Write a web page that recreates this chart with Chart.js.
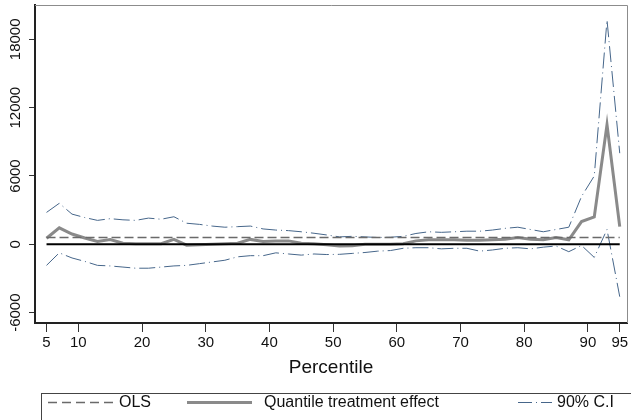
<!DOCTYPE html>
<html><head><meta charset="utf-8">
<script src="https://cdn.jsdelivr.net/npm/chart.js@4"></script>
<style>html,body{margin:0;padding:0;background:#fff;overflow:hidden;}</style>
</head><body>
<canvas id="c" width="631" height="420"></canvas>
<script>
const percentiles = [5,7,9,11,13,15,17,19,21,23,25,27,29,31,33,35,37,39,41,43,45,47,49,51,53,55,57,59,61,63,65,67,69,71,73,75,77,79,81,83,85,87,89,91,93,95];
const qte = [530,1450,900,550,250,420,100,50,50,50,430,-80,-50,0,50,100,430,250,300,300,100,50,
             -50,-150,-120,0,0,0,50,300,400,400,400,350,350,400,450,600,450,400,600,400,2000,2400,10500,1550];
const ciUpper = [2800,3600,2650,2350,2100,2250,2150,2100,2300,2200,2420,1850,1750,1600,1500,1550,1600,1350,1250,1200,1100,970,
                 820,650,700,650,600,620,700,950,1100,1050,1100,1150,1150,1250,1400,1500,1300,1100,1300,1500,4200,6000,19700,8000];
const ciLower = [-1850,-750,-1200,-1500,-1850,-1900,-2000,-2100,-2100,-2000,-1900,-1850,-1700,-1550,-1400,-1100,-1000,-1000,-750,-850,-950,-850,
                 -900,-880,-800,-720,-600,-550,-350,-300,-300,-400,-350,-350,-600,-500,-350,-300,-400,-250,-150,-650,-100,-1150,1300,-4600];
const olsValue = 600;
const zeroValue = 0;
const xTicks = [5,10,20,30,40,50,60,70,80,90,95];
const yTicks = [-6000,0,6000,12000,18000];
const legendLabels = ['OLS','Quantile treatment effect','90% C.I'];
const xTitle = 'Percentile';

const FONT = 'Arial, "Liberation Sans", sans-serif';
const CI_COLOR = '#46668a';
const QTE_COLOR = '#8a8a8a';
const OLS_COLOR = '#6a6a6a';

const pts = arr => percentiles.map((p,i)=>({x:p,y:arr[i]}));
const constPts = v => percentiles.map(p=>({x:p,y:v}));

const framePlugin = {
  id:'frame',
  afterDraw(chart){
    const ctx = chart.ctx, a = chart.chartArea;
    const ys = chart.scales.y;
    ctx.save();
    ctx.strokeStyle = '#8c8c8c'; ctx.lineWidth = 1;
    ctx.beginPath();
    ctx.moveTo(a.left, a.top+0.5); ctx.lineTo(a.right+0.5, a.top+0.5); ctx.lineTo(a.right+0.5, a.bottom);
    ctx.stroke();
    ctx.fillStyle = '#111';
    ctx.font = '15px ' + FONT;
    ctx.textAlign = 'center'; ctx.textBaseline = 'middle';
    ys.ticks.forEach(t=>{
      const y = ys.getPixelForValue(t.value);
      ctx.save(); ctx.translate(16, y); ctx.rotate(-Math.PI/2);
      ctx.fillText(String(t.value), 0, 0);
      ctx.restore();
    });
    ctx.strokeStyle = '#444'; ctx.lineWidth = 1;
    ctx.strokeRect(41.5, 393.5, 640, 60);
    const ly = 402.5;
    ctx.font = '16px ' + FONT; ctx.textAlign = 'left'; ctx.fillStyle='#111';
    ctx.strokeStyle = OLS_COLOR; ctx.lineWidth = 1.5; ctx.setLineDash([9,5]);
    ctx.beginPath(); ctx.moveTo(48, ly); ctx.lineTo(115, ly); ctx.stroke();
    ctx.fillText(legendLabels[0], 119, ly);
    ctx.strokeStyle = QTE_COLOR; ctx.lineWidth = 3; ctx.setLineDash([]);
    ctx.beginPath(); ctx.moveTo(187, ly); ctx.lineTo(252, ly); ctx.stroke();
    ctx.fillText(legendLabels[1], 264, ly);
    ctx.strokeStyle = CI_COLOR; ctx.lineWidth = 1; ctx.setLineDash([14,4,1,4]);
    ctx.beginPath(); ctx.moveTo(518, ly); ctx.lineTo(552, ly); ctx.stroke();
    ctx.setLineDash([]);
    ctx.fillText(legendLabels[2], 557, ly);
    ctx.restore();
  }
};

new Chart(document.getElementById('c'), {
  type:'line',
  data:{
    datasets:[
      {label:'zero', data:constPts(zeroValue), borderColor:'#000', borderWidth:2, pointRadius:0, order:0},
      {label:legendLabels[0], data:constPts(olsValue), borderColor:OLS_COLOR, borderWidth:1.5, borderDash:[9,4], pointRadius:0, order:1},
      {label:legendLabels[1], data:pts(qte), borderColor:QTE_COLOR, borderWidth:3, pointRadius:0, order:2},
      {label:'upper', data:pts(ciUpper), borderColor:CI_COLOR, borderWidth:1, borderDash:[16,4,1,4], pointRadius:0, order:3},
      {label:'lower', data:pts(ciLower), borderColor:CI_COLOR, borderWidth:1, borderDash:[16,4,1,4], pointRadius:0, order:3}
    ]
  },
  options:{
    responsive:false, animation:false, devicePixelRatio:1,
    layout:{padding:{top:5,right:4,left:0,bottom:0}},
    plugins:{legend:{display:false}, tooltip:{enabled:false}},
    scales:{
      x:{type:'linear', min:3.19, max:96.14,
        afterBuildTicks:s=>{s.ticks = xTicks.map(v=>({value:v}));},
        afterFit:s=>{s.height = 97;},
        grid:{display:true, drawOnChartArea:false, drawTicks:true, tickLength:9, color:'#333', lineWidth:1},
        border:{display:true, color:'#222', width:2},
        ticks:{autoSkip:false, maxRotation:0, color:'#111', font:{size:15, family:FONT}, padding:2},
        title:{display:true, text:xTitle, color:'#111', font:{size:19, family:FONT}, padding:{top:2,bottom:41}}
      },
      y:{type:'linear', min:-6911, max:21013,
        afterBuildTicks:s=>{s.ticks = yTicks.map(v=>({value:v}));},
        afterFit:s=>{s.width = 35;},
        grid:{display:true, drawOnChartArea:false, drawTicks:true, tickLength:6, color:'#333', lineWidth:1},
        border:{display:true, color:'#222', width:2},
        ticks:{display:false}
      }
    }
  },
  plugins:[framePlugin]
});
</script>
</body></html>
